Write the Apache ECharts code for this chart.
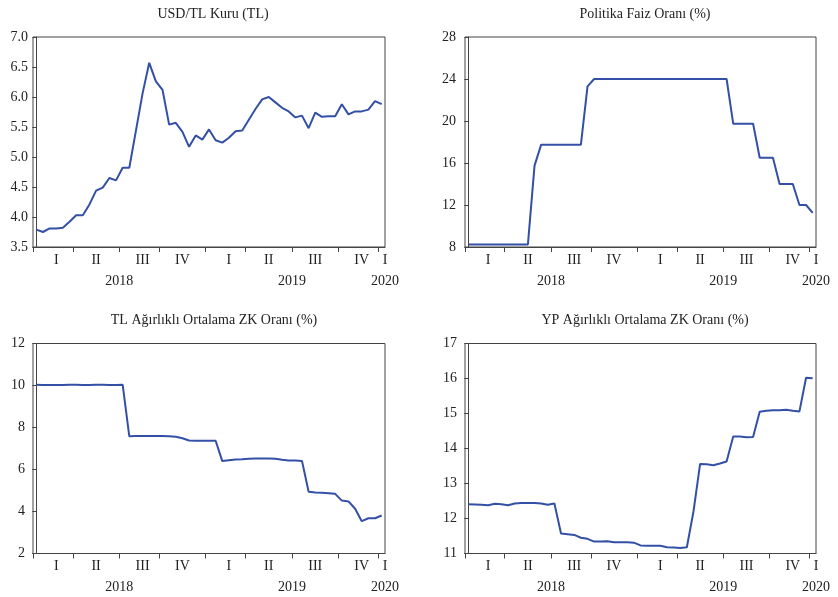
<!DOCTYPE html>
<html>
<head>
<meta charset="utf-8">
<script src="https://cdn.jsdelivr.net/npm/echarts@6/dist/echarts.min.js"></script>
<style>
html,body{margin:0;padding:0;background:#fff;}
#chart{width:838px;height:597px;}
</style>
</head>
<body>
<div id="chart"></div>
<script>
// ---- Data (biweekly observations, 2018 Q1 .. 2020 Q1) ----
var categories = [
  '2018Q1-1','2018Q1-2','2018Q1-3','2018Q1-4','2018Q1-5','2018Q1-6',
  '2018Q2-1','2018Q2-2','2018Q2-3','2018Q2-4','2018Q2-5','2018Q2-6','2018Q2-7',
  '2018Q3-1','2018Q3-2','2018Q3-3','2018Q3-4','2018Q3-5','2018Q3-6',
  '2018Q4-1','2018Q4-2','2018Q4-3','2018Q4-4','2018Q4-5','2018Q4-6','2018Q4-7',
  '2019Q1-1','2019Q1-2','2019Q1-3','2019Q1-4','2019Q1-5','2019Q1-6',
  '2019Q2-1','2019Q2-2','2019Q2-3','2019Q2-4','2019Q2-5','2019Q2-6','2019Q2-7',
  '2019Q3-1','2019Q3-2','2019Q3-3','2019Q3-4','2019Q3-5','2019Q3-6','2019Q3-7',
  '2019Q4-1','2019Q4-2','2019Q4-3','2019Q4-4','2019Q4-5','2019Q4-6',
  '2020Q1-1'
];

var usdTry = [
  3.79,3.75,3.81,3.81,3.82,3.92,
  4.03,4.03,4.21,4.44,4.49,4.65,4.61,
  4.82,4.82,5.44,6.06,6.57,6.26,
  6.12,5.54,5.57,5.42,5.17,5.36,5.29,
  5.46,5.28,5.24,5.32,5.43,5.44,
  5.62,5.80,5.96,6.00,5.91,5.82,5.76,
  5.66,5.69,5.48,5.74,5.67,5.68,5.68,
  5.88,5.71,5.76,5.76,5.79,5.93,
  5.88
];

var policyRate = [
  8.25,8.25,8.25,8.25,8.25,8.25,
  8.25,8.25,8.25,8.25,15.75,17.75,17.75,
  17.75,17.75,17.75,17.75,17.75,23.3,
  24,24,24,24,24,24,24,
  24,24,24,24,24,24,
  24,24,24,24,24,24,24,
  24,19.75,19.75,19.75,19.75,16.5,16.5,
  16.5,14,14,14,12,12,
  11.25
];

var tlDepositRate = [
  10.03,10.02,10.02,10.02,10.02,10.03,
  10.03,10.02,10.02,10.03,10.03,10.02,10.02,
  10.04,7.58,7.60,7.60,7.60,7.60,
  7.60,7.58,7.56,7.49,7.38,7.37,7.37,
  7.37,7.37,6.40,6.44,6.48,6.49,
  6.51,6.52,6.52,6.52,6.51,6.46,6.43,
  6.43,6.41,4.94,4.90,4.89,4.87,4.84,
  4.52,4.48,4.13,3.54,3.68,3.68,
  3.81
];

var fxDepositRate = [
  12.41,12.40,12.39,12.38,12.42,12.41,
  12.38,12.43,12.44,12.44,12.44,12.43,12.39,
  12.43,11.57,11.55,11.53,11.45,11.42,
  11.34,11.34,11.35,11.32,11.32,11.32,11.31,
  11.23,11.22,11.22,11.22,11.18,11.17,
  11.16,11.18,12.20,13.56,13.55,13.52,13.57,
  13.63,14.34,14.34,14.32,14.33,15.05,15.08,
  15.09,15.09,15.11,15.08,15.06,16.02,
  16.01
];

var titles = [
  'USD/TL Kuru (TL)',
  'Politika Faiz Oranı (%)',
  'TL Ağırlıklı Ortalama ZK Oranı (%)',
  'YP Ağırlıklı Ortalama ZK Oranı (%)'
];

// quarter boundary ticks (category index where a quarter starts)
var quarterStartIdx = [0, 6, 13, 19, 26, 32, 39, 46, 52];
// quarter labels and their positions (in category-index units)
var quarterLabels = ['I','II','III','IV','I','II','III','IV','I'];
var quarterLabelPos = [3, 9, 16, 22, 29, 35, 42, 49, 52.5];
var yearLabels = ['2018','2019','2020'];
var yearLabelPos = [12.5, 38.5, 52.5];

var yRanges = [
  {min:3.5, max:7.0, interval:0.5, dec:1},
  {min:8, max:28, interval:4, dec:0},
  {min:2, max:12, interval:2, dec:0},
  {min:11, max:17, interval:1, dec:0}
];
var seriesData = [usdTry, policyRate, tlDepositRate, fxDepositRate];

// half-step scaffold for the tick axis: band edge + band centre for each period
var halfSteps = [];
categories.forEach(function (c) { halfSteps.push(c + ' start'); halfSteps.push(c); });
halfSteps.push('end');

// ---- Layout ----
var grids = [
  {left:33, top:37, width:352, height:210},
  {left:465, top:37, width:351, height:210},
  {left:33, top:343.5, width:352, height:210},
  {left:465, top:343.5, width:351, height:210}
];
var titleCenters = [[208, 2], [640, 2], [209, 308], [640, 308]];
var yLabelMargin = [5, 9, 8, 8];

var FONT = '"Liberation Serif", "Times New Roman", serif';
var TXT = '#222';
var AX = '#444';
var LINE = '#3350a6';

function mapLabel(pos, labels) {
  var m = {};
  for (var i = 0; i < pos.length; i++) m[pos[i]] = labels[i];
  return function (v) {
    var k = Math.round(v * 2) / 2;
    return m[k] !== undefined ? m[k] : '';
  };
}
var qFmt = mapLabel(quarterLabelPos, quarterLabels);
var yFmt = mapLabel(yearLabelPos, yearLabels);

var option = {
  animation: false,
  backgroundColor: '#fff',
  title: [], grid: [], xAxis: [], yAxis: [], series: []
};

for (var g = 0; g < 4; g++) {
  option.title.push({
    text: titles[g], left: titleCenters[g][0], top: titleCenters[g][1], textAlign: 'center',
    textStyle: {fontFamily: FONT, fontSize: 14, fontWeight: 'normal', color: TXT}
  });
  option.grid.push(Object.assign({show: true, borderColor: AX, borderWidth: 1, backgroundColor: 'transparent'}, grids[g]));
  // data axis (category)
  option.xAxis.push({
    type: 'category', gridIndex: g, data: categories, boundaryGap: true, position: 'bottom',
    axisLine: {show: true, lineStyle: {color: AX, width: 1}},
    axisTick: {show: false}, axisLabel: {show: false}, splitLine: {show: false}
  });
  // quarter labels
  option.xAxis.push({
    type: 'value', gridIndex: g, position: 'bottom', offset: 0,
    min: -0.5, max: 52.5, interval: 0.5,
    axisLine: {show: false}, axisTick: {show: false}, splitLine: {show: false},
    axisLabel: {show: true, margin: 6, fontFamily: FONT, fontSize: 14, color: TXT, formatter: qFmt,
      showMinLabel: true, showMaxLabel: true}
  });
  // year labels
  option.xAxis.push({
    type: 'value', gridIndex: g, position: 'bottom', offset: 21,
    min: -0.5, max: 52.5, interval: 0.5,
    axisLine: {show: false}, axisTick: {show: false}, splitLine: {show: false},
    axisLabel: {show: true, margin: 6, fontFamily: FONT, fontSize: 14, color: TXT, formatter: yFmt,
      showMinLabel: true, showMaxLabel: true}
  });
  // quarter-boundary tick axis
  option.xAxis.push({
    type: 'category', gridIndex: g, data: halfSteps, boundaryGap: false, position: 'bottom', offset: 0,
    axisLine: {show: false},
    axisTick: {show: true, inside: false, length: 5, lineStyle: {color: AX},
      interval: function (idx) { return idx % 2 === 0 && quarterStartIdx.indexOf(idx / 2) >= 0; }},
    axisLabel: {show: false}, splitLine: {show: false}
  });
  (function (r, m) {
    option.yAxis.push({
      type: 'value', gridIndex: g, min: r.min, max: r.max, interval: r.interval,
      axisLine: {show: true, lineStyle: {color: AX, width: 1}},
      axisTick: {show: true, inside: false, length: 4, lineStyle: {color: AX}},
      splitLine: {show: false},
      axisLabel: {margin: m, fontFamily: FONT, fontSize: 14, color: TXT,
        formatter: function (v) { return v.toFixed(r.dec); }}
    });
  })(yRanges[g], yLabelMargin[g]);
  option.series.push({
    type: 'line', xAxisIndex: g * 4, yAxisIndex: g, data: seriesData[g],
    symbol: 'none', smooth: false,
    lineStyle: {color: LINE, width: 2}, itemStyle: {color: LINE}
  });
}

var chart = echarts.init(document.getElementById('chart'), null, {renderer: 'canvas'});
chart.setOption(option);
</script>
</body>
</html>
